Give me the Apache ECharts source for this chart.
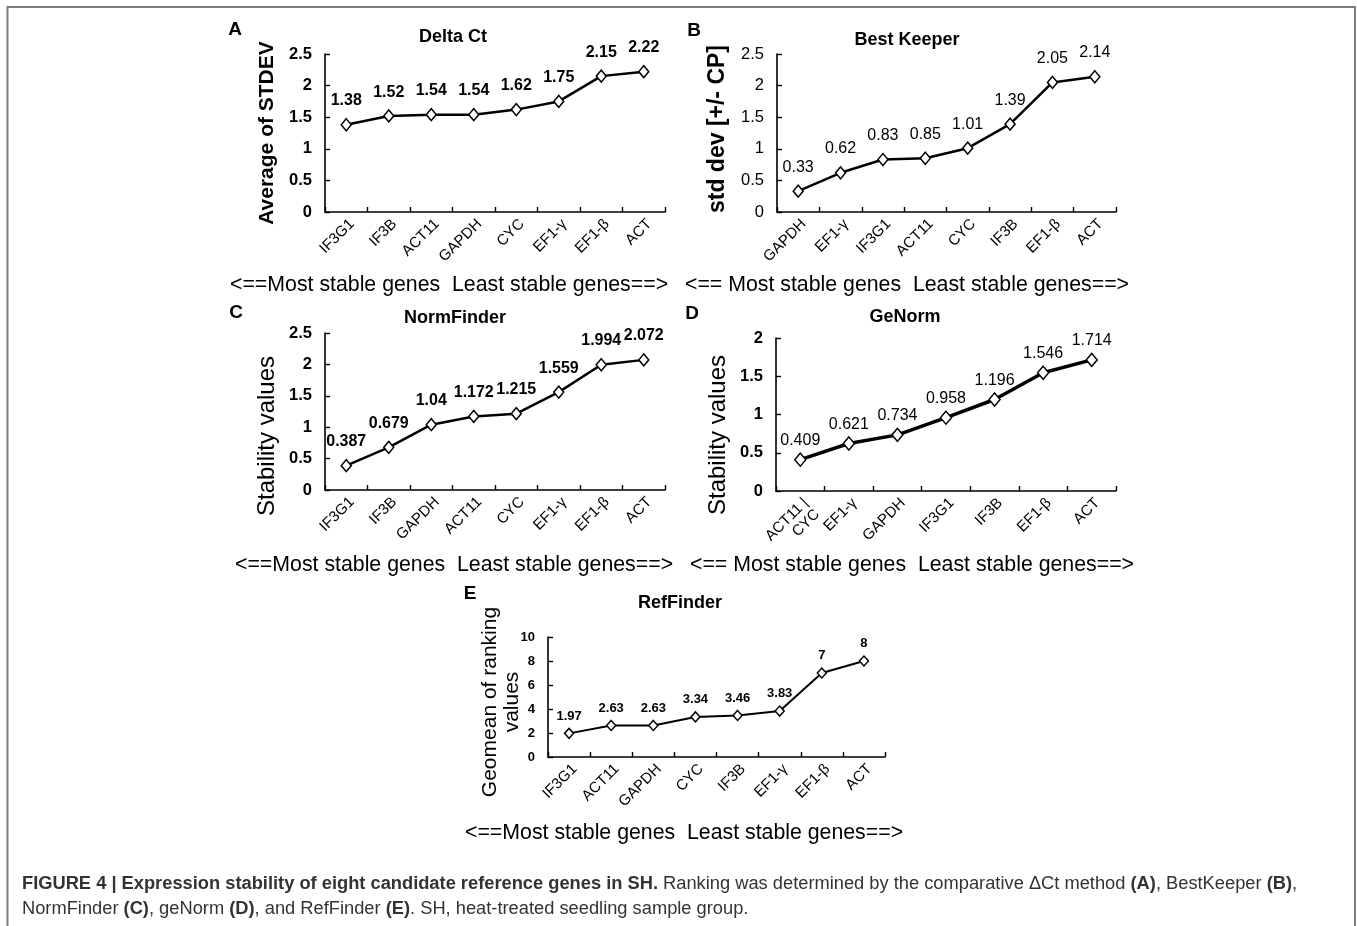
<!DOCTYPE html>
<html>
<head>
<meta charset="utf-8">
<script src="https://cdn.jsdelivr.net/npm/echarts@6/dist/echarts.min.js"></script>
<style>
html,body{margin:0;padding:0;background:#fff;}
#chart{width:1357px;height:926px;}
</style>
</head>
<body>
<div id="chart"></div>
<script>
// ---- Data ----
const catsA = ['IF3G1', 'IF3B', 'ACT11', 'GAPDH', 'CYC', 'EF1-γ', 'EF1-β', 'ACT'];
const valsA = [1.38, 1.52, 1.54, 1.54, 1.62, 1.75, 2.15, 2.22];

const catsB = ['GAPDH', 'EF1-γ', 'IF3G1', 'ACT11', 'CYC', 'IF3B', 'EF1-β', 'ACT'];
const valsB = [0.33, 0.62, 0.83, 0.85, 1.01, 1.39, 2.05, 2.14];

const catsC = ['IF3G1', 'IF3B', 'GAPDH', 'ACT11', 'CYC', 'EF1-γ', 'EF1-β', 'ACT'];
const valsC = [0.387, 0.679, 1.04, 1.172, 1.215, 1.559, 1.994, 2.072];

const catsD = ['ACT11 |\nCYC', 'EF1-γ', 'GAPDH', 'IF3G1', 'IF3B', 'EF1-β', 'ACT'];
const valsD = [0.409, 0.621, 0.734, 0.958, 1.196, 1.546, 1.714];

const catsE = ['IF3G1', 'ACT11', 'GAPDH', 'CYC', 'IF3B', 'EF1-γ', 'EF1-β', 'ACT'];
const valsE = [1.97, 2.63, 2.63, 3.34, 3.46, 3.83, 7, 8];

const titles = ['Delta Ct', 'Best Keeper', 'NormFinder', 'GeNorm', 'RefFinder'];
const yNames = ['Average of STDEV', 'std dev [+/- CP]', 'Stability values', 'Stability values', 'Geomean of ranking\nvalues'];
const letters = ['A', 'B', 'C', 'D', 'E'];
const bottomTexts = [
  '<==Most stable genes  Least stable genes==>',
  '<== Most stable genes  Least stable genes==>',
  '<==Most stable genes  Least stable genes==>',
  '<== Most stable genes  Least stable genes==>',
  '<==Most stable genes  Least stable genes==>'
];
const yMax = [2.5, 2.5, 2.5, 2, 10];
const yInterval = [0.5, 0.5, 0.5, 0.5, 2];

// ---- Layout / style ----
const FF = 'Liberation Sans, Arial, sans-serif';
const panels = [
  {cats: catsA, vals: valsA, grid: {left: 325, top: 54, width: 340, height: 158},
   tickFs: 16.5, tickFw: 'bold', xFs: 15, lblFs: 16, lblFw: 'bold', lblDist: 9, lw: 2.5, sym: [10, 12],
   title: [453, 37], yname: [267, 133, 21, 'bold'], letter: [235, 30], bottom: [230, 285]},
  {cats: catsB, vals: valsB, grid: {left: 777, top: 54, width: 339, height: 158},
   tickFs: 16.5, tickFw: 'normal', xFs: 15, lblFs: 16, lblFw: 'normal', lblDist: 9, lw: 2.5, sym: [10, 12],
   title: [907, 40], yname: [718, 129, 23, 'bold'], letter: [694, 31], bottom: [685, 285]},
  {cats: catsC, vals: valsC, grid: {left: 325, top: 333, width: 340, height: 157},
   tickFs: 16.5, tickFw: 'bold', xFs: 15, lblFs: 16, lblFw: 'bold', lblDist: 9, lw: 2.5, sym: [10, 12],
   title: [455, 318], yname: [267, 436, 24, 'normal'], letter: [236, 313], bottom: [235, 565]},
  {cats: catsD, vals: valsD, grid: {left: 776, top: 338, width: 340, height: 153},
   tickFs: 16.5, tickFw: 'bold', xFs: 15, lblFs: 16, lblFw: 'normal', lblDist: 4, lw: 3.5, sym: [11, 13],
   title: [905, 317], yname: [718, 435, 24, 'normal'], letter: [692, 314], bottom: [690, 565]},
  {cats: catsE, vals: valsE, grid: {left: 548, top: 637, width: 337, height: 120},
   tickFs: 13, tickFw: 'bold', xFs: 15, lblFs: 13, lblFw: 'bold', lblDist: 5, lw: 2, sym: [9, 10],
   title: [680, 603], yname: [501, 702, 21, 'normal'], letter: [470, 594], bottom: [465, 833]}
];

const grids = [], xAxes = [], yAxes = [], series = [], graphics = [];

panels.forEach((p, i) => {
  grids.push(p.grid);
  xAxes.push({
    type: 'category', gridIndex: i, data: p.cats, boundaryGap: true,
    axisLine: {lineStyle: {color: '#000', width: 1.6}},
    axisTick: {show: true, inside: true, length: 5, lineStyle: {color: '#000', width: 1.4}},
    axisLabel: {rotate: 45, interval: 0, fontSize: p.xFs, color: '#000', fontFamily: FF, margin: 4,
                lineHeight: p.xFs + 1, align: 'right', verticalAlign: 'top'},
    splitLine: {show: false}
  });
  yAxes.push({
    type: 'value', gridIndex: i, min: 0, max: yMax[i], interval: yInterval[i],
    axisLine: {show: true, lineStyle: {color: '#000', width: 1.6}},
    axisTick: {show: true, inside: true, length: 5, lineStyle: {color: '#000', width: 1.4}},
    axisLabel: {fontSize: p.tickFs, fontWeight: p.tickFw, color: '#000', fontFamily: FF, margin: 13},
    splitLine: {show: false}
  });
  series.push({
    type: 'line', xAxisIndex: i, yAxisIndex: i, data: p.vals,
    symbol: 'diamond', symbolSize: p.sym, showAllSymbol: true,
    itemStyle: {color: '#fff', borderColor: '#000', borderWidth: 1.5},
    lineStyle: {color: '#000', width: p.lw},
    label: {show: true, position: 'top', distance: p.lblDist, fontSize: p.lblFs, fontWeight: p.lblFw,
            color: '#000', fontFamily: FF},
    z: 3
  });
  graphics.push({type: 'text', x: p.title[0], y: p.title[1],
    style: {text: titles[i], fontSize: 18, fontWeight: 'bold', fontFamily: FF, fill: '#000', align: 'center', verticalAlign: 'middle'}});
  graphics.push({type: 'text', x: p.yname[0], y: p.yname[1], rotation: Math.PI / 2,
    style: {text: yNames[i], fontSize: p.yname[2], fontWeight: p.yname[3], fontFamily: FF, fill: '#000',
            align: 'center', verticalAlign: 'middle', lineHeight: p.yname[2] + 1}});
  graphics.push({type: 'text', x: p.letter[0], y: p.letter[1],
    style: {text: letters[i], fontSize: 19, fontWeight: 'bold', fontFamily: FF, fill: '#000', align: 'center', verticalAlign: 'middle'}});
  graphics.push({type: 'text', x: p.bottom[0], y: p.bottom[1],
    style: {text: bottomTexts[i], fontSize: 21.3, fontFamily: FF, fill: '#000', align: 'left', verticalAlign: 'middle'}});
});

// frame
graphics.push({type: 'rect', shape: {x: 7.5, y: 7, width: 1347.5, height: 940},
  style: {fill: 'none', stroke: '#7a7a7a', lineWidth: 2}});

// caption
graphics.push({type: 'text', x: 22, y: 871,
  style: {
    text: '{b|FIGURE 4 | Expression stability of eight candidate reference genes in SH.} Ranking was determined by the comparative ΔCt method {b|(A)}, BestKeeper {b|(B)},\nNormFinder {b|(C)}, geNorm {b|(D)}, and RefFinder {b|(E)}. SH, heat-treated seedling sample group.',
    fontSize: 18.3, fontFamily: FF, fill: '#333', align: 'left', verticalAlign: 'top', lineHeight: 25,
    rich: {b: {fontSize: 18.3, fontWeight: 'bold', fontFamily: FF, fill: '#333', lineHeight: 25}}
  }});

const chart = echarts.init(document.getElementById('chart'), null, {renderer: 'canvas'});
chart.setOption({
  animation: false,
  backgroundColor: '#fff',
  grid: grids, xAxis: xAxes, yAxis: yAxes, series: series,
  graphic: graphics
});
</script>
</body>
</html>
